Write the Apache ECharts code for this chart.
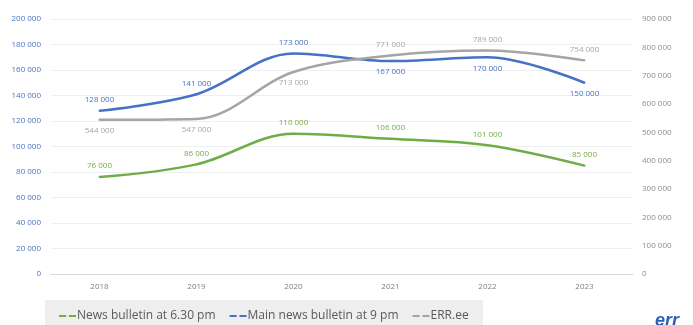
<!DOCTYPE html>
<html>
<head>
<meta charset="utf-8">
<script src="https://cdn.jsdelivr.net/npm/echarts@6/dist/echarts.min.js"></script>
<style>
  html, body { margin: 0; padding: 0; background: #fff; }
  #chart { width: 693px; height: 325px; }
</style>
</head>
<body>
<div id="chart"></div>
<script>
  // data
  var years = ['2018', '2019', '2020', '2021', '2022', '2023'];
  var newsEvening = [76000, 86000, 110000, 106000, 101000, 85000];
  var mainNews = [128000, 141000, 173000, 167000, 170000, 150000];
  var errEe = [544000, 547000, 713000, 771000, 789000, 754000];
  var seriesNames = ['News bulletin at 6.30 pm', 'Main news bulletin at 9 pm', 'ERR.ee'];
  // label placement per point (above / below the line)
  var mainPos = ['top', 'top', 'top', 'bottom', 'bottom', 'bottom'];
  var errPos = ['bottom', 'bottom', 'bottom', 'top', 'top', 'top'];

  var green = '#70ad47', blue = '#4472c4', grey = '#a5a5a5';

  function fmt(v){
    return String(v).replace(/\B(?=(\d{3})+(?!\d))/g, ' ');
  }

  function pts(values, posList){
    return values.map(function(v, i){
      var p = { value: v };
      if (posList) p.label = { position: posList[i] };
      return p;
    });
  }

  function lineSeries(name, color, values, posList, axisIdx){
    return {
      name: name,
      type: 'line',
      yAxisIndex: axisIdx,
      smooth: 0.35,
      symbol: 'circle',
      symbolSize: 2,
      showSymbol: true,
      lineStyle: { color: color, width: 2.5 },
      itemStyle: { color: color, borderWidth: 0 },
      label: {
        show: true,
        position: 'top',
        distance: 6,
        color: color,
        fontSize: 8,
        fontFamily: 'Open Sans',
        formatter: function(p){ return fmt(p.value); }
      },
      data: pts(values, posList)
    };
  }

  var chart = echarts.init(document.getElementById('chart'));
  var dash = 'path://M0,0h5v1.4h-5z M7,0h5v1.4h-5z';
  chart.setOption({
    animation: false,
    textStyle: { fontFamily: 'Open Sans' },
    grid: { left: 51, right: 60, top: 19, bottom: 51 },
    graphic: [
      { type: 'rect', shape: { x: 45, y: 300, width: 438, height: 25 }, style: { fill: '#eeeeee' }, z: -1 },
      { type: 'text', left: 655, top: 312, style: { text: 'err', fill: '#2e5fb5', font: 'italic bold 18px "Liberation Sans"' } }
    ],
    legend: {
      left: 54,
      top: 305,
      itemGap: 14,
      itemWidth: 17,
      itemHeight: 3,
      textStyle: { color: '#595959', fontSize: 12, fontFamily: 'Open Sans', padding: [0, 0, 0, -4] },
      data: [
        { name: seriesNames[0], icon: dash },
        { name: seriesNames[1], icon: dash },
        { name: seriesNames[2], icon: dash }
      ]
    },
    xAxis: {
      type: 'category',
      data: years,
      boundaryGap: true,
      axisLine: { lineStyle: { color: '#d9d9d9' } },
      axisTick: { show: false },
      axisLabel: { color: '#7f7f7f', fontSize: 8, margin: 9 }
    },
    yAxis: [
      {
        type: 'value',
        min: 0, max: 200000, interval: 20000,
        axisLine: { show: false },
        axisTick: { show: false },
        splitLine: { lineStyle: { color: '#efefef' } },
        axisLabel: { color: '#4a74c0', fontSize: 8, margin: 10, formatter: fmt }
      },
      {
        type: 'value',
        min: 0, max: 900000, interval: 100000,
        position: 'right',
        axisLine: { show: false },
        axisTick: { show: false },
        splitLine: { show: false },
        axisLabel: { color: '#8c8c8c', fontSize: 8, margin: 9, formatter: fmt }
      }
    ],
    series: [
      lineSeries(seriesNames[0], green, newsEvening, null, 0),
      lineSeries(seriesNames[1], blue, mainNews, mainPos, 0),
      lineSeries(seriesNames[2], grey, errEe, errPos, 1)
    ]
  });
</script>
</body>
</html>
